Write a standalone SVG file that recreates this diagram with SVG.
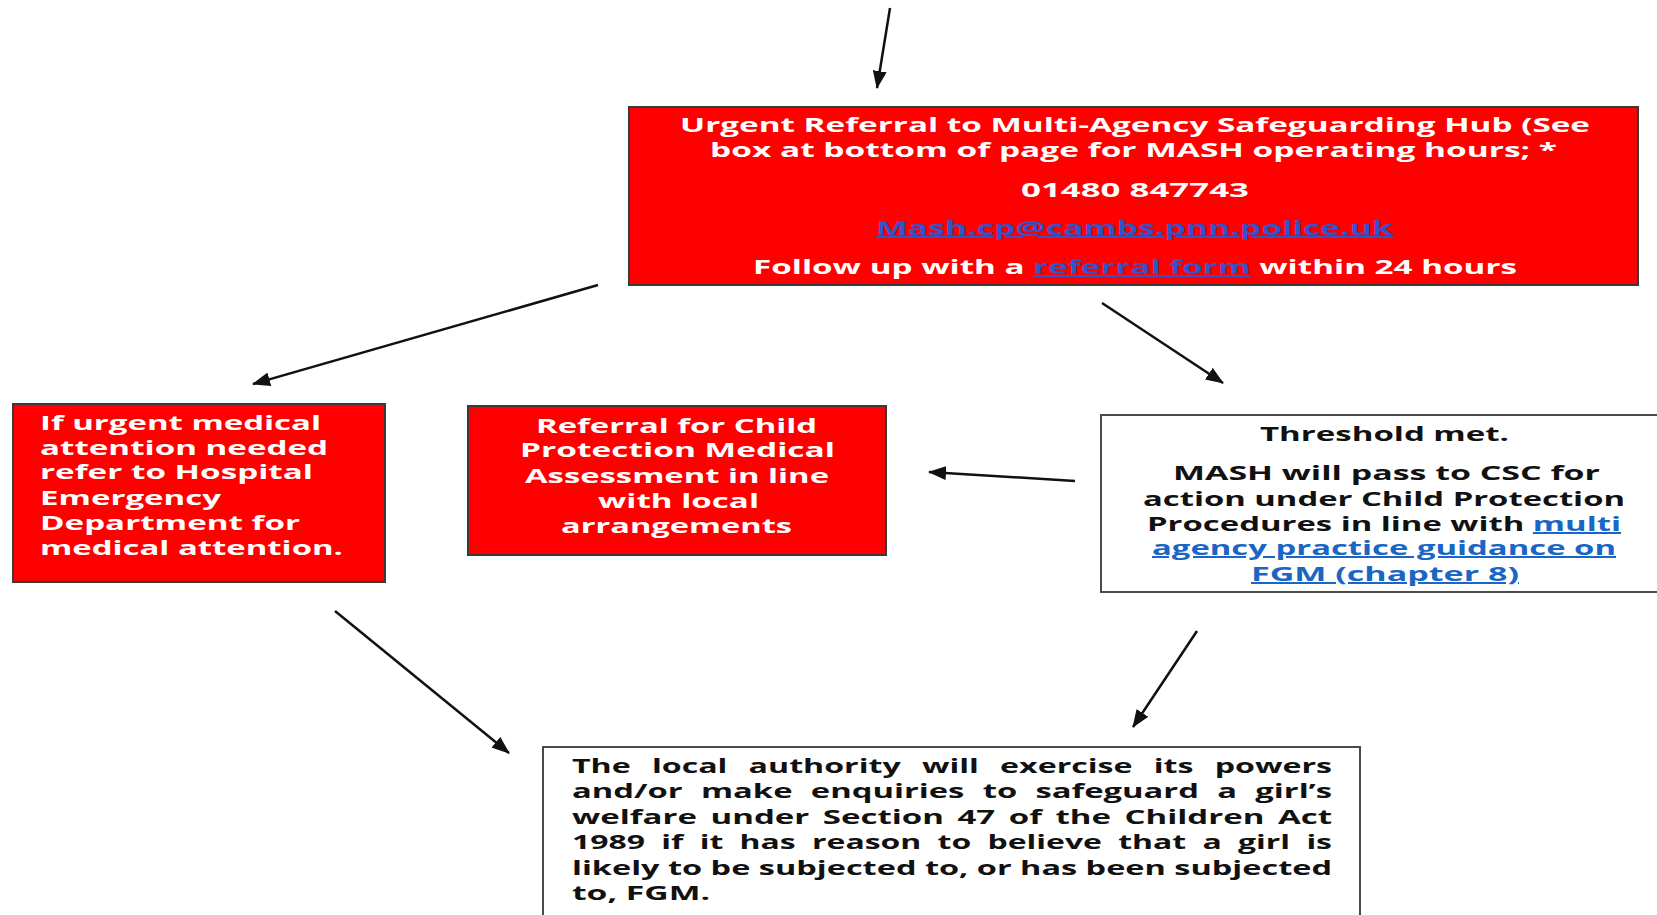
<svg xmlns="http://www.w3.org/2000/svg" width="1657" height="915" viewBox="0 0 1657 915">
<style>
.red{fill:#ff0000;stroke:#3a3a3a;stroke-width:2}
.white{fill:#ffffff;stroke:#4a4a4a;stroke-width:2}
.tw{font-family:"Open Sans","Noto Sans","Liberation Sans",sans-serif;font-weight:700;font-size:20px;fill:#ffffff}
.tb{font-family:"Open Sans","Noto Sans","Liberation Sans",sans-serif;font-weight:700;font-size:20px;fill:#111111}
.lnk1{fill:#3552c8;text-decoration:underline}
.lnk2{fill:#1a66c4;text-decoration:underline}
.conn{stroke:#111111;stroke-width:2.5;fill:none;marker-end:url(#ah)}
</style>
<defs>
<marker id="ah" markerUnits="userSpaceOnUse" markerWidth="18" markerHeight="14" refX="17" refY="7" orient="auto">
<path d="M0,0 L18,7 L0,14 z" fill="#111111"/>
</marker>
</defs>
<rect width="1657" height="915" fill="#ffffff"/>
<g id="connectors">
<line class="conn" x1="890" y1="8" x2="877" y2="88"/>
<line class="conn" x1="598" y1="285" x2="253" y2="384"/>
<line class="conn" x1="1102" y1="303" x2="1223" y2="383"/>
<line class="conn" x1="1075" y1="481" x2="929" y2="472"/>
<line class="conn" x1="335" y1="611" x2="509" y2="753"/>
<line class="conn" x1="1197" y1="631" x2="1133" y2="727"/>
</g>
<g id="mash">
<rect class="red" x="629" y="107" width="1009" height="178"/>
<text class="tw" x="680" y="132" textLength="910" lengthAdjust="spacingAndGlyphs">Urgent Referral to Multi-Agency Safeguarding Hub (See</text>
<text class="tw" x="710" y="157" textLength="847" lengthAdjust="spacingAndGlyphs">box at bottom of page for MASH operating hours; *</text>
<text class="tw" x="1021" y="197" textLength="228" lengthAdjust="spacingAndGlyphs">01480 847743</text>
<text class="tw" x="876" y="235" textLength="517" lengthAdjust="spacingAndGlyphs"><tspan class="lnk1">Mash.cp@cambs.pnn.police.uk</tspan></text>
<text class="tw" x="753" y="274" textLength="764" lengthAdjust="spacingAndGlyphs">Follow up with a <tspan class="lnk1">referral form</tspan> within 24 hours</text>
</g>
<g id="hospital">
<rect class="red" x="13" y="404" width="372" height="178"/>
<text class="tw" x="40" y="430" textLength="281" lengthAdjust="spacingAndGlyphs">If urgent medical</text>
<text class="tw" x="40" y="455" textLength="288" lengthAdjust="spacingAndGlyphs">attention needed</text>
<text class="tw" x="40" y="479" textLength="273" lengthAdjust="spacingAndGlyphs">refer to Hospital</text>
<text class="tw" x="40" y="505" textLength="181" lengthAdjust="spacingAndGlyphs">Emergency</text>
<text class="tw" x="40" y="530" textLength="260" lengthAdjust="spacingAndGlyphs">Department for</text>
<text class="tw" x="40" y="555" textLength="303" lengthAdjust="spacingAndGlyphs">medical attention.</text>
</g>
<g id="medical">
<rect class="red" x="468" y="406" width="418" height="149"/>
<text class="tw" x="536" y="433" textLength="281" lengthAdjust="spacingAndGlyphs">Referral for Child</text>
<text class="tw" x="520" y="457" textLength="315" lengthAdjust="spacingAndGlyphs">Protection Medical</text>
<text class="tw" x="525" y="483" textLength="304" lengthAdjust="spacingAndGlyphs">Assessment in line</text>
<text class="tw" x="598" y="508" textLength="161" lengthAdjust="spacingAndGlyphs">with local</text>
<text class="tw" x="561" y="533" textLength="231" lengthAdjust="spacingAndGlyphs">arrangements</text>
</g>
<g id="threshold">
<rect class="white" x="1101" y="415" width="570" height="177"/>
<text class="tb" x="1260" y="441" textLength="249" lengthAdjust="spacingAndGlyphs">Threshold met.</text>
<text class="tb" x="1173" y="480" textLength="427" lengthAdjust="spacingAndGlyphs">MASH will pass to CSC for</text>
<text class="tb" x="1143" y="506" textLength="482" lengthAdjust="spacingAndGlyphs">action under Child Protection</text>
<text class="tb" x="1147" y="531" textLength="474" lengthAdjust="spacingAndGlyphs">Procedures in line with <tspan class="lnk2">multi</tspan></text>
<text class="tb" x="1152" y="555" textLength="464" lengthAdjust="spacingAndGlyphs"><tspan class="lnk2">agency practice guidance on</tspan></text>
<text class="tb" x="1251" y="581" textLength="268" lengthAdjust="spacingAndGlyphs"><tspan class="lnk2">FGM (chapter 8)</tspan></text>
</g>
<g id="local-authority">
<rect class="white" x="543" y="747" width="817" height="190"/>
<text class="tb" x="572" y="773" textLength="760" lengthAdjust="spacingAndGlyphs" word-spacing="8">The local authority will exercise its powers</text>
<text class="tb" x="572" y="798" textLength="760" lengthAdjust="spacingAndGlyphs" word-spacing="6">and/or make enquiries to safeguard a girl’s</text>
<text class="tb" x="572" y="824" textLength="760" lengthAdjust="spacingAndGlyphs" word-spacing="3">welfare under Section 47 of the Children Act</text>
<text class="tb" x="572" y="849" textLength="760" lengthAdjust="spacingAndGlyphs" word-spacing="5">1989 if it has reason to believe that a girl is</text>
<text class="tb" x="572" y="875" textLength="760" lengthAdjust="spacingAndGlyphs">likely to be subjected to, or has been subjected</text>
<text class="tb" x="572" y="900" textLength="138" lengthAdjust="spacingAndGlyphs">to, FGM.</text>
</g>
</svg>
